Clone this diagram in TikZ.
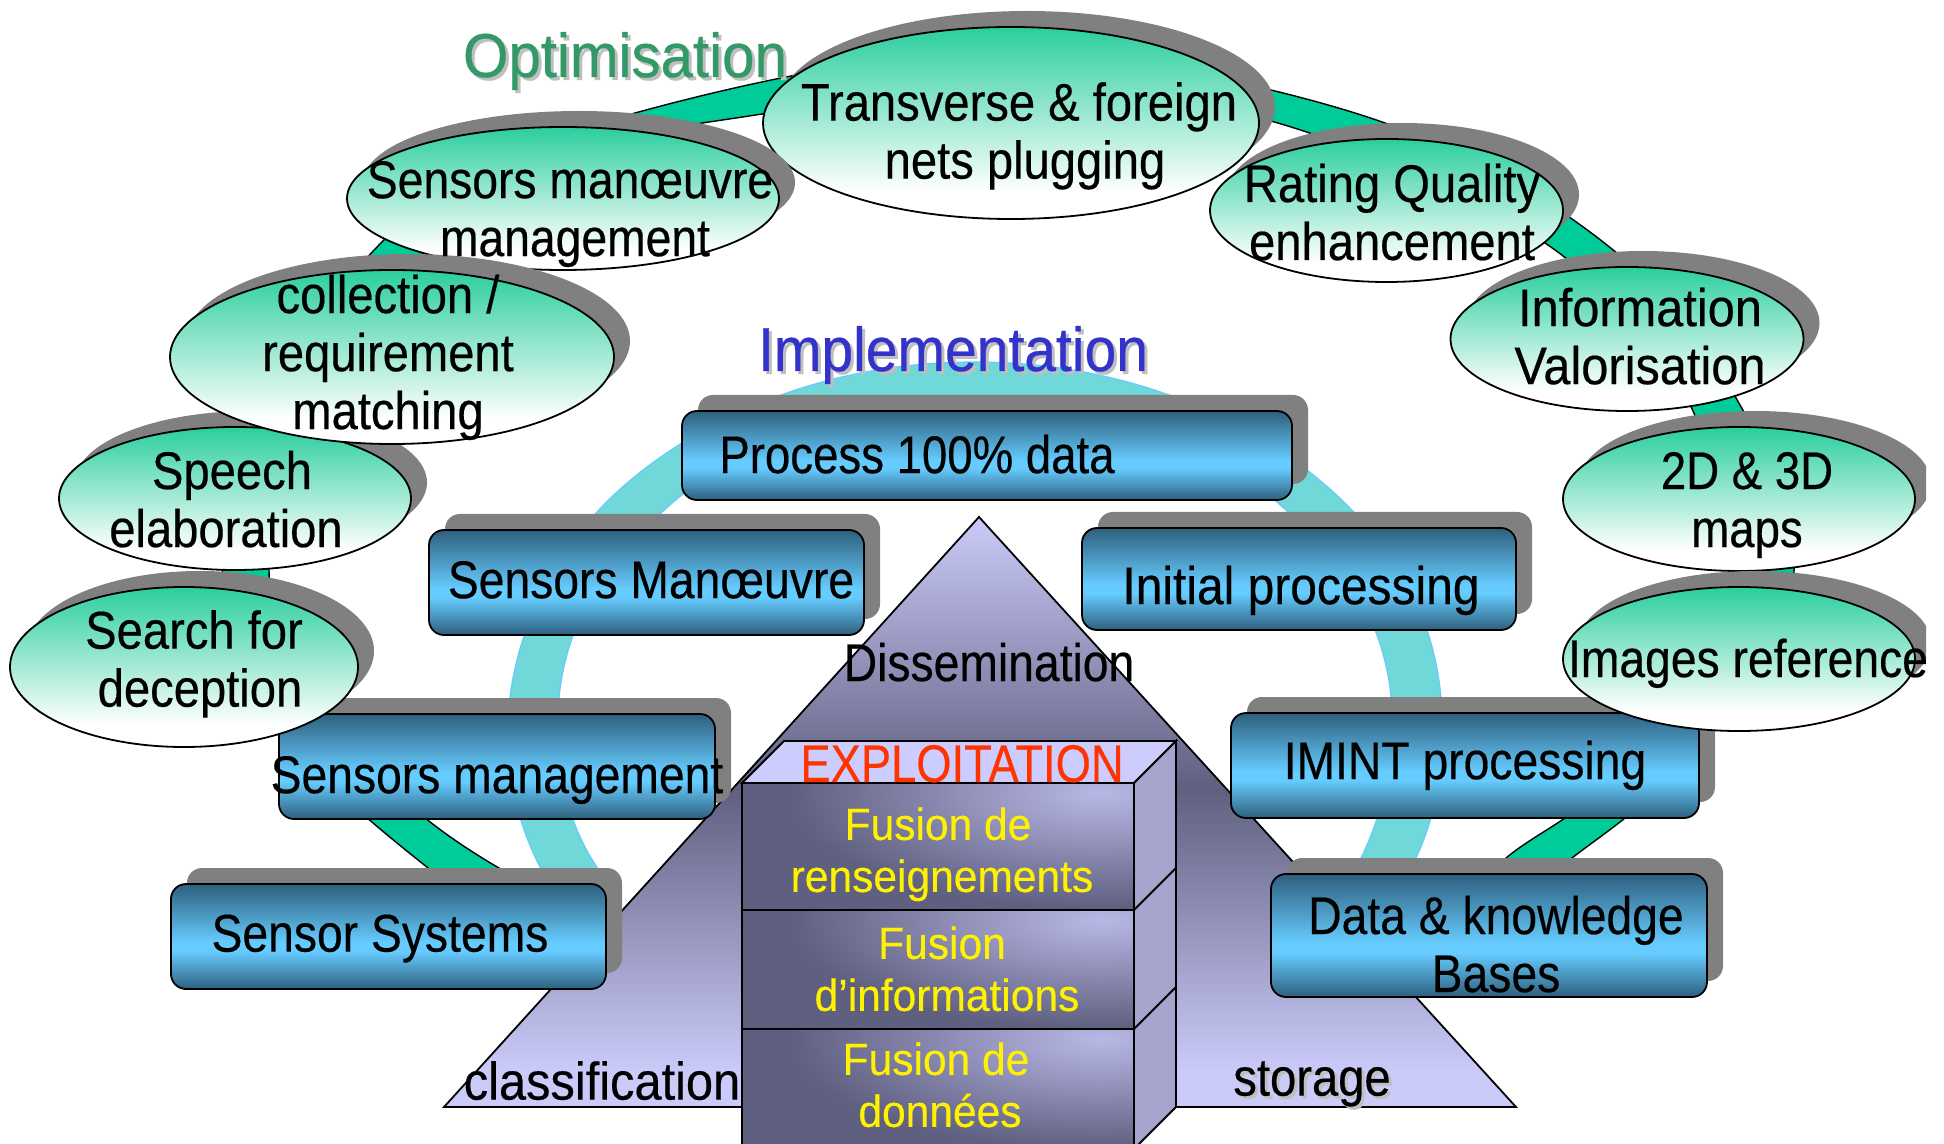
\documentclass[tikz,border=0pt]{standalone}
\usepackage{fontspec}
\usetikzlibrary{shapes.geometric,hobby}
\setmainfont{Liberation Sans}
\newfontfamily\fc[FakeStretch=0.89,FakeBold=0.35]{Liberation Sans}
\newfontfamily\fb[FakeStretch=0.873,FakeBold=0.35]{Liberation Sans}
\newfontfamily\fp[FakeStretch=0.86,FakeBold=0.35]{Liberation Sans}
\newfontfamily\fw[FakeStretch=0.92,FakeBold=0.35]{Liberation Sans}
\newfontfamily\fh[FakeStretch=0.92,FakeBold=0.5]{Liberation Sans}
\newfontfamily\fo[FakeStretch=0.94,FakeBold=0.5]{Liberation Sans}
\newfontfamily\fe[FakeStretch=0.855,FakeBold=0.35]{Liberation Sans}
\newfontfamily\fy[FakeStretch=0.945,FakeBold=0.3]{Liberation Sans}
\definecolor{grn}{HTML}{00CC99}
\definecolor{grntop}{HTML}{2BCE9E}
\definecolor{teal1}{HTML}{70D8D8}
\definecolor{tealedge}{HTML}{66CCFF}
\definecolor{shd}{HTML}{808080}
\definecolor{bxd}{HTML}{2E5F7D}
\definecolor{bxl}{HTML}{66CCFF}
\definecolor{pyl}{HTML}{CBCBFA}
\definecolor{pyd}{HTML}{5F5F80}
\definecolor{sidef}{HTML}{A4A4CC}
\definecolor{topf}{HTML}{CCCCFF}
\definecolor{blkl}{HTML}{B8B8E6}
\definecolor{optg}{HTML}{339966}
\definecolor{impb}{HTML}{3333CC}
\definecolor{expr}{HTML}{FF3300}
\pgfdeclareverticalshading{boxshade}{100bp}{color(0bp)=(bxd); color(25bp)=(bxd); color(43bp)=(bxl); color(47bp)=(bxl); color(75bp)=(bxd); color(100bp)=(bxd)}
\pgfdeclareverticalshading{ellshade}{100bp}{color(0bp)=(white); color(32bp)=(white); color(75bp)=(grntop); color(100bp)=(grntop)}
\pgfdeclareverticalshading{pyrshade}{100bp}{color(0bp)=(pyl); color(28bp)=(pyl); color(52bp)=(pyd); color(75bp)=(pyl); color(100bp)=(pyl)}
\tikzset{
  boxnode/.style={rectangle,rounded corners=7.5pt,draw=black,line width=0.9pt,shading=boxshade,inner sep=0pt},
  boxshadow/.style={rectangle,rounded corners=7.5pt,fill=shd,inner sep=0pt},
  ellnode/.style={ellipse,draw=black,line width=0.9pt,shading=ellshade,inner sep=0pt},
  ellshadow/.style={ellipse,fill=shd,inner sep=0pt},
  lb/.style={inner sep=0pt,align=center,text=black,font=\fc\fontsize{26.5}{29}\selectfont},
  lbb/.style={lb,font=\fb\fontsize{26.5}{29}\selectfont},
  lbp/.style={lb,font=\fp\fontsize{26.5}{29}\selectfont},
  lbw/.style={lb,font=\fw\fontsize{26.5}{29}\selectfont},
  ttl/.style={inner sep=0pt,anchor=base,font=\fh\fontsize{31}{34}\selectfont},
  ttlo/.style={inner sep=0pt,anchor=base,font=\fo\fontsize{31}{34}\selectfont},
  yl/.style={inner sep=0pt,align=center,text=yellow,font=\fy\fontsize{22.5}{26}\selectfont},
  ring/.style={draw=black,line width=0.7pt,fill=grn},
  tealring/.style={draw=tealedge,line width=0.6pt,fill=teal1},
  edgeline/.style={draw=black,line width=0.9pt}
}
\newcommand\BoxN[5]{%
  \pgfmathsetmacro\bw{(#4-#2)*0.5}\pgfmathsetmacro\bh{(#5-#3)*0.5}%
  \pgfmathsetmacro\bx{(#2+#4)/2}\pgfmathsetmacro\by{(#3+#5)/2}%
  \node[boxshadow,minimum width=\bw pt,minimum height=\bh pt] (#1s) at (\bx+16,\by-16) {};
  \node[boxnode,minimum width=\bw pt,minimum height=\bh pt] (#1) at (\bx,\by) {};
}
\newcommand\EllN[5]{%
  \pgfmathsetmacro\ew{#4}\pgfmathsetmacro\eh{#5}%
  \node[ellshadow,minimum width=\ew pt,minimum height=\eh pt] (#1s) at (#2+16,#3-16) {};
  \node[ellnode,minimum width=\ew pt,minimum height=\eh pt] (#1) at (#2,#3) {};
}
\newcommand\sh[1]{\hspace*{#1pt}}
\begin{document}
\begin{tikzpicture}[x=0.5pt,y=-0.5pt,use Hobby shortcut]
\useasboundingbox (0,0) rectangle (1944,1144);
\fill[white] (0,0) rectangle (1944,1144);
\begin{scope}
\clip (0,0) rectangle (1926,1144);
% green ring
\draw[ring] (450,885) .. (397,843) .. (290,745) .. (232,660) .. (222,575) .. (240,480) .. (290,370) .. (378,246) .. (480,170) .. (635,113) .. (791,76) .. (1011,52) .. (1271,90) .. (1385,123) .. (1594,235) .. (1700,340) .. (1740,405) .. (1790,520) .. (1785,620) .. (1700,745) .. (1625,818) .. (1572,858) .. (1540,885)
 -- (1480,885) .. (1506,858) .. (1565,818) .. (1660,730) .. (1722,640) .. (1720,500) .. (1693,411) .. (1640,330) .. (1555,250) .. (1450,190) .. (1291,127) .. (1011,85) .. (736,118) .. (560,160) .. (430,260) .. (330,390) .. (285,480) .. (269,570) .. (285,650) .. (340,735) .. (425,818) .. (499,868) .. (530,885) -- cycle;
% teal ring
\draw[tealring] (550,885) .. (529,843) .. (508,720) .. (525,633) .. (596,513) .. (682,443) .. (781,395) .. (976,362) .. (1169,395) .. (1307,470) .. (1427,630) .. (1442,710) .. (1416,858) .. (1395,895)
 -- (1340,895) .. (1361,858) .. (1392,710) .. (1375,630) .. (1288,512) .. (1180,440) .. (976,420) .. (775,440) .. (661,513) .. (574,633) .. (558,710) .. (583,843) .. (610,885) -- cycle;
% pyramid
\coordinate (apex) at (979,517);
\coordinate (bl) at (444,1107);
\coordinate (br) at (1516,1107);
\draw[edgeline,shading=pyrshade] (apex) -- (br) -- (bl) -- cycle;
% exploitation block
\coordinate (ftl) at (742,783); \coordinate (ftr) at (1134,783);
\coordinate (btl) at (784,741); \coordinate (btr) at (1176,741);
\coordinate (bbr) at (1176,1107); \coordinate (fbr) at (1134,1149);
\draw[edgeline,fill=topf] (ftl) -- (btl) -- (btr) -- (ftr) -- cycle;
\draw[edgeline,fill=sidef] (ftr) -- (btr) -- (bbr) -- (fbr) -- cycle;
\begin{scope}
\clip (742,783) rectangle (1134,910);
\fill[pyd] (742,783) rectangle (1134,910);
\shade[inner color=blkl,outer color=pyd] (1100,793) ellipse (310 and 115);
\end{scope}
\begin{scope}
\clip (742,910) rectangle (1134,1029);
\fill[pyd] (742,910) rectangle (1134,1029);
\shade[inner color=blkl,outer color=pyd] (1100,920) ellipse (310 and 108);
\end{scope}
\begin{scope}
\clip (742,1029) rectangle (1134,1149);
\fill[pyd] (742,1029) rectangle (1134,1149);
\shade[inner color=blkl,outer color=pyd] (1100,1039) ellipse (310 and 110);
\end{scope}
\draw[edgeline] (742,783) rectangle (1134,1149);
\draw[edgeline] (742,910) -- (1134,910) -- (1176,868);
\draw[edgeline] (742,1029) -- (1134,1029) -- (1176,987);
% rounded boxes
\BoxN{process}{682}{411}{1292}{500}
\BoxN{manoeuvre}{429}{530}{864}{635}
\BoxN{initial}{1082}{528}{1516}{630}
\BoxN{management}{279}{714}{715}{819}
\BoxN{systems}{171}{884}{606}{989}
\BoxN{imint}{1231}{713}{1699}{818}
\BoxN{data}{1271}{874}{1707}{997}
% ellipses
\EllN{search}{184}{667}{174}{80}
\EllN{speech}{235}{498.5}{176}{71.5}
\EllN{transverse}{1011}{123}{248}{96}
\EllN{manoeuvreE}{563}{198.5}{216}{71.5}
\EllN{collection}{392}{357}{222}{87}
\EllN{rating}{1386.5}{210.5}{176.5}{71.5}
\EllN{info}{1627}{339}{176.5}{72}
\EllN{maps}{1739}{499}{176}{72}
\EllN{images}{1739}{659}{176}{72}
% labels
\node[lb] (tTransverse) at (1022,138) {\strut\sh{-3}Transverse \& foreign\\\strut\sh{3}nets plugging};
\node[lbb] (tSensman) at (572,215.5) {\strut\sh{-2}Sensors manœuvre\\\strut\sh{3}management};
\node[lb] (tCollection) at (388,359.5) {\strut collection /\\\strut requirement\\\strut matching};
\node[lb] (tSpeech) at (229,506.4) {\strut\sh{3}Speech\\\strut\sh{-3}elaboration};
\node[lb] (tSearch) at (197,666) {\strut\sh{-3}Search for\\\strut\sh{3}deception};
\node[lb] (tRating) at (1392,219.4) {\strut Rating Quality\\\strut enhancement};
\node[lbw] (tInfo) at (1640,343.5) {\strut Information\\\strut Valorisation};
\node[lbp] (tMaps) at (1747,506.4) {\strut 2D \& 3D\\\strut maps};
\node[lbb] (tImages) at (1748,665.4) {\strut Images reference};
\node[lbp] (tProcess) at (917,461.5) {\strut Process 100\% data};
\node[lbb] (tManoeuvre) at (651,586.5) {\strut Sensors Manœuvre};
\node[lbb] (tInitial) at (1301,592.5) {\strut \fontspec[FakeStretch=0.905,FakeBold=0.35]{Liberation Sans}Initial processing};
\node[lbb] (tManagement) at (497,781.5) {\strut Sensors management};
\node[lbb] (tSystems) at (380,940) {\strut Sensor Systems};
\node[lbb] (tImint) at (1465,767.5) {\strut IMINT processing};
\node[lbb] (tData) at (1496,951.4) {\strut Data \& knowledge\\\strut Bases};
\node[lbb] (tDissem) at (989,669.4) {\strut Dissemination};
\node[lbw] (tClass) at (602,1088) {\strut classification};
\node[lb,text=black!25] (tStorageS) at (1315,1087) {\strut storage};
\node[lb] (tStorage) at (1312,1084) {\strut storage};
\node[ttlo,text=black!25] (tOptS) at (628,80) {Optimisation};
\node[ttlo,text=optg] (tOpt) at (625,77) {Optimisation};
\node[ttl,text=black!25] (tImpS) at (956,374) {Implementation};
\node[ttl,text=impb] (tImp) at (953,371) {Implementation};
\node[inner sep=0pt,anchor=base,text=expr,font=\fe\fontsize{26.5}{29}\selectfont] (tExpl) at (962,782) {EXPLOITATION};
\node[yl] (tFus1) at (940,855.5) {\strut\sh{-2}Fusion de\\\strut\sh{2}renseignements};
\node[yl] (tFus2) at (945,974.5) {\strut\sh{-3}Fusion\\\strut\sh{2}d’informations};
\node[yl] (tFus3) at (938,1090.5) {\strut\sh{-2}Fusion de\\\strut\sh{2}données};
\end{scope}
\end{tikzpicture}
\end{document}
